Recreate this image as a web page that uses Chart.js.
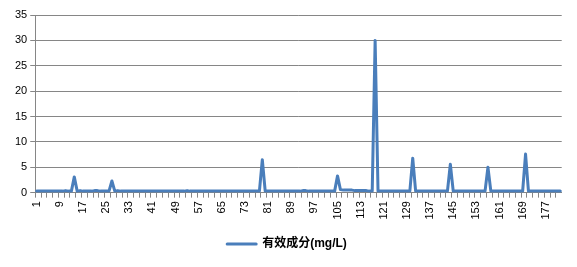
<!DOCTYPE html>
<html>
<head>
<meta charset="utf-8">
<script src="https://cdn.jsdelivr.net/npm/chart.js@4/dist/chart.umd.min.js"></script>
<style>
html,body{margin:0;padding:0;background:#fff;}
#c{display:block;}
</style>
</head>
<body>
<canvas id="c" width="577" height="267"></canvas>
<script>
const categories = [
1,2,3,4,5,6,7,8,9,10,
11,12,13,14,15,16,17,18,19,20,
21,22,23,24,25,26,27,28,29,30,
31,32,33,34,35,36,37,38,39,40,
41,42,43,44,45,46,47,48,49,50,
51,52,53,54,55,56,57,58,59,60,
61,62,63,64,65,66,67,68,69,70,
71,72,73,74,75,76,77,78,79,80,
81,82,83,84,85,86,87,88,89,90,
91,92,93,94,95,96,97,98,99,100,
101,102,103,104,105,106,107,108,109,110,
111,112,113,114,115,116,117,118,119,120,
121,122,123,124,125,126,127,128,129,130,
131,132,133,134,135,136,137,138,139,140,
141,142,143,144,145,146,147,148,149,150,
151,152,153,154,155,156,157,158,159,160,
161,162,163,164,165,166,167,168,169,170,
171,172,173,174,175,176,177,178,179,180,
181,182
];
const activeIngredient = [
0.3,0.3,0.3,0.3,0.3,0.3,0.3,0.3,0.3,0.3,
0.4,0.3,0.3,3.1,0.3,0.4,0.3,0.3,0.3,0.3,
0.4,0.4,0.3,0.3,0.3,0.3,2.3,0.3,0.4,0.3,
0.3,0.3,0.3,0.3,0.3,0.3,0.3,0.3,0.3,0.3,
0.3,0.3,0.3,0.3,0.3,0.3,0.3,0.3,0.3,0.3,
0.3,0.3,0.4,0.3,0.3,0.3,0.3,0.3,0.3,0.3,
0.3,0.3,0.3,0.3,0.3,0.3,0.3,0.3,0.3,0.3,
0.3,0.3,0.3,0.3,0.3,0.3,0.3,0.3,6.5,0.3,
0.3,0.3,0.3,0.3,0.3,0.3,0.3,0.3,0.3,0.3,
0.3,0.3,0.4,0.4,0.3,0.3,0.3,0.3,0.3,0.3,
0.3,0.3,0.3,0.3,3.3,0.6,0.5,0.5,0.5,0.5,
0.4,0.4,0.4,0.4,0.4,0.3,0.3,30,0.3,0.3,
0.3,0.3,0.3,0.3,0.3,0.3,0.3,0.3,0.3,0.3,
6.8,0.3,0.3,0.3,0.3,0.3,0.3,0.3,0.3,0.3,
0.3,0.3,0.3,5.6,0.3,0.3,0.3,0.3,0.3,0.3,
0.3,0.3,0.3,0.3,0.3,0.3,5.0,0.3,0.3,0.3,
0.3,0.3,0.3,0.3,0.3,0.3,0.3,0.3,0.3,7.6,
0.3,0.3,0.3,0.3,0.3,0.3,0.3,0.3,0.3,0.3,
0.3,0.3
];
const xTickLabels = [1,9,17,25,33,41,49,57,65,73,81,89,97,105,113,121,129,137,145,153,161,169,177];
const yTickValues = [0,5,10,15,20,25,30,35];
const seriesName = '有效成分(mg/L)';

const gridGray = '#868686';
new Chart(document.getElementById('c'), {
  type: 'line',
  data: {
    labels: categories,
    datasets: [{
      label: seriesName,
      data: activeIngredient,
      borderColor: '#4A7EBB',
      backgroundColor: '#4A7EBB',
      borderWidth: 3,
      pointRadius: 0,
      tension: 0,
      borderJoinStyle: 'round',
      borderCapStyle: 'round'
    }]
  },
  options: {
    responsive: false,
    animation: false,
    layout: { padding: { left: 12, right: 15, top: 15, bottom: 7 } },
    plugins: {
      tooltip: { enabled: false },
      legend: {
        position: 'bottom',
        labels: {
          boxWidth: 29,
          boxHeight: 0,
          padding: 15,
          color: '#000',
          font: { family: '"Liberation Sans", "Noto Sans CJK SC", sans-serif', size: 12, weight: 'bold' }
        }
      }
    },
    scales: {
      x: {
        offset: true,
        border: { color: gridGray, width: 1 },
        grid: {
          drawOnChartArea: false,
          drawTicks: true,
          tickLength: 5,
          offset: true,
          color: (ctx) => (ctx.index % 2 === 0 ? gridGray : 'rgba(0,0,0,0)')
        },
        ticks: {
          autoSkip: false,
          maxRotation: 90,
          minRotation: 90,
          padding: 3.5,
          color: '#000',
          font: { family: '"Liberation Sans", sans-serif', size: 11 },
          callback: function(value, index) {
            const lab = categories[index];
            return xTickLabels.includes(lab) ? String(lab) : '';
          }
        }
      },
      y: {
        min: 0,
        max: 35,
        border: { color: gridGray, width: 1 },
        grid: { color: gridGray, lineWidth: 1, tickLength: 5 },
        afterBuildTicks: (axis) => { axis.ticks = yTickValues.map(v => ({ value: v })); },
        ticks: {
          padding: 3,
          color: '#000',
          font: { family: '"Liberation Sans", sans-serif', size: 11 }
        }
      }
    }
  }
});
</script>
</body>
</html>
